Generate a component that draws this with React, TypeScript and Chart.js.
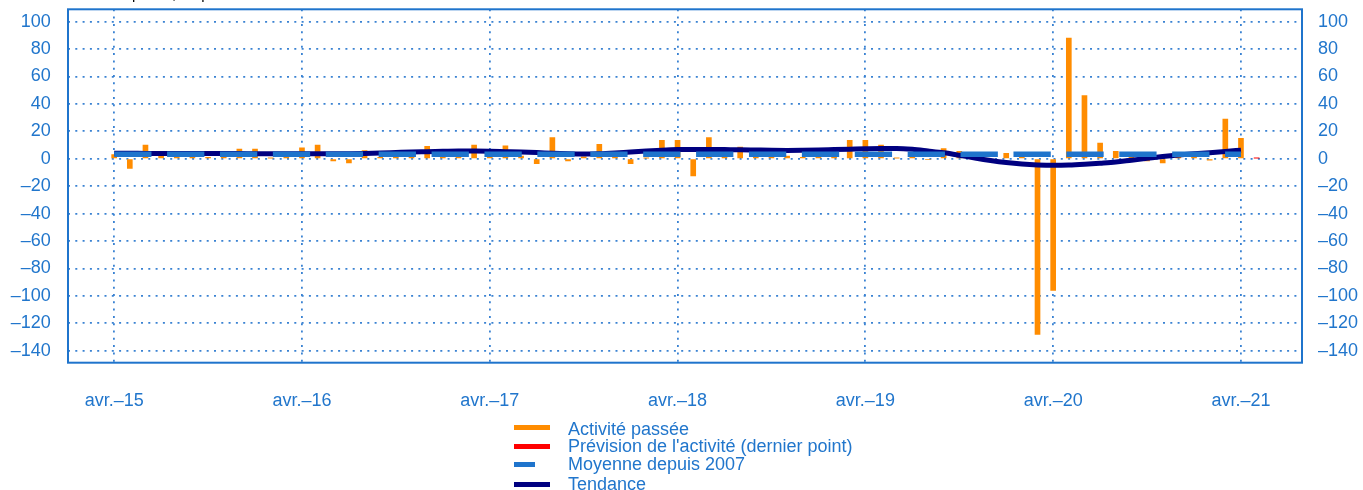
import React, { useEffect, useRef } from "react";
import { Chart, registerables } from "chart.js";

Chart.register(...registerables);

// Monthly index: 0 = avr. 2015 ... 72 = avr. 2021
const yearTickMonths = [0, 12, 24, 36, 48, 60, 72];
const yearLabels = ["avr.–15", "avr.–16", "avr.–17", "avr.–18", "avr.–19", "avr.–20", "avr.–21"];

// Activité passée (solde d'opinion), avr. 2015 -> avr. 2021
const activity = [
  3, -7, 10, 2, 1, 2, 1, 2, 7, 7, 0.5, 1,
  8, 10, -1.5, -3, 6, 1, 1.5, 1, 9, 1, 1, 10,
  2, 9.5, 2, -3.5, 15.5, -1.5, 1.5, 10.5, 1.5, -3.5, 0.5, 13.5,
  13.5, -12.5, 15.5, 1.5, 8.5, 1.5, 1, 2, 1, 1, 1.5, 13.5,
  13.5, 10, 0.5, 1.5, -0.5, 7.5, 5.5, 2, -2, 4, 4.5, -128,
  -96, 88, 46, 11.5, 5.5, 2, -1.5, -3, 1.5, 1.5, -1, 29,
  15,
];

// Prévision de l'activité (dernier point) : mai 2021
const forecastMonth = [73];
const forecast = [0.5];

// Moyenne depuis 2007
const meanMonths = [0, 72];
const meanSince2007 = 3.3;

// Tendance
const trend = [
  4.0, 4.0, 3.9, 3.9, 3.9, 3.9, 3.9, 3.8, 3.8, 3.7, 3.7, 3.6,
  3.6, 3.6, 3.6, 3.7, 3.9, 4.2, 4.6, 5.0, 5.2, 5.4, 5.6, 5.6,
  5.5, 5.2, 4.9, 4.5, 4.0, 3.6, 3.4, 3.6, 4.2, 5.0, 5.7, 6.3,
  6.7, 6.8, 6.8, 6.7, 6.6, 6.4, 6.2, 6.1, 6.2, 6.4, 6.7, 7.0,
  7.3, 7.5, 7.5, 6.9, 5.7, 4.4, 2.6, 0.6, -1.2, -2.7, -3.8, -4.5,
  -4.8, -4.6, -4.0, -3.2, -2.3, -1.0, 0.3, 1.6, 2.7, 3.6, 4.4, 5.3,
  6.3,
];

const legendItems = [
  { label: "Activité passée", color: "#ff8c00", width: 36 },
  { label: "Prévision de l'activité (dernier point)", color: "#ff0000", width: 36 },
  { label: "Moyenne depuis 2007", color: "#1f74cc", width: 21 },
  { label: "Tendance", color: "#000080", width: 36 },
];

const BLUE_TEXT = "#2176cc";
const GRID_BLUE = "#3a82d2";
const FONT = "'Liberation Sans', Arial, Helvetica, sans-serif";

const fmt = (v: number) => (v < 0 ? "–" + Math.abs(v) : String(v));

const framePlugin = {
  id: "frame",
  afterDraw(chart: any) {
    const { ctx, chartArea } = chart;
    ctx.save();
    ctx.strokeStyle = "#1f74cc";
    ctx.lineWidth = 2;
    ctx.strokeRect(chartArea.left, chartArea.top, chartArea.right - chartArea.left, chartArea.bottom - chartArea.top);
    ctx.restore();
  },
};

const noPad = (s: any) => {
  s.paddingTop = 0;
  s.paddingBottom = 0;
  s.paddingLeft = 0;
  s.paddingRight = 0;
};

export default function App() {
  const ref = useRef<HTMLCanvasElement>(null);

  useEffect(() => {
    if (!ref.current) return;
    Chart.defaults.font.family = FONT;
    const chart = new Chart(ref.current, {
      type: "bar",
      data: {
        datasets: [
          {
            type: "line",
            label: "Moyenne depuis 2007",
            data: meanMonths.map((m) => ({ x: m, y: meanSince2007 })),
            borderColor: "#1f74cc",
            borderWidth: 5.5,
            borderDash: [37.3, 15.6],
            borderCapStyle: "butt",
            pointRadius: 0,
            order: 1,
          },
          {
            type: "line",
            label: "Tendance",
            data: trend.map((v, i) => ({ x: i, y: v })),
            borderColor: "#000080",
            borderWidth: 5,
            cubicInterpolationMode: "monotone",
            pointRadius: 0,
            order: 2,
          },
          {
            type: "bar",
            label: "Prévision de l'activité (dernier point)",
            data: forecast.map((v, i) => ({ x: forecastMonth[i], y: v })),
            backgroundColor: "#ff0000",
            barThickness: 5,
            grouped: false,
            order: 3,
          },
          {
            type: "bar",
            label: "Activité passée",
            data: activity.map((v, i) => ({ x: i, y: v })),
            backgroundColor: "#ff8c00",
            barThickness: 5,
            grouped: false,
            order: 4,
          },
        ],
      } as any,
      options: {
        responsive: false,
        animation: false,
        devicePixelRatio: 1,
        layout: { padding: { top: 9.3, left: 0, right: 0, bottom: 0 } },
        plugins: { legend: { display: false }, tooltip: { enabled: false }, title: { display: false } },
        scales: {
          x: {
            type: "linear",
            min: -2.95,
            max: 75.9,
            offset: false,
            z: 1,
            grid: { offset: false, drawTicks: false, color: GRID_BLUE, lineWidth: 1.8 },
            border: { display: false, dash: [2, 5.3] },
            afterBuildTicks: (s: any) => {
              s.ticks = yearTickMonths.map((v) => ({ value: v }));
            },
            afterFit: (s: any) => {
              s.height = 127.3;
              noPad(s);
            },
            ticks: {
              autoSkip: false,
              maxRotation: 0,
              padding: 28,
              color: BLUE_TEXT,
              font: { size: 18, family: FONT },
              callback: (_v: any, i: number) => yearLabels[i],
            },
          },
          y: {
            type: "linear",
            position: "left",
            min: -148.7,
            max: 109,
            z: 1,
            grid: { drawTicks: false, color: GRID_BLUE, lineWidth: 1.8 },
            border: { display: false, dash: [2, 5.3] },
            afterFit: (s: any) => {
              s.width = 68;
              noPad(s);
            },
            ticks: {
              stepSize: 20,
              includeBounds: false,
              padding: 17.3,
              color: BLUE_TEXT,
              font: { size: 18, family: FONT },
              callback: (v: any) => fmt(Number(v)),
            },
          },
          y2: {
            type: "linear",
            position: "right",
            min: -148.7,
            max: 109,
            grid: { display: false, drawTicks: false },
            border: { display: false },
            afterFit: (s: any) => {
              s.width = 61;
              noPad(s);
            },
            ticks: {
              stepSize: 20,
              includeBounds: false,
              padding: 16,
              color: BLUE_TEXT,
              font: { size: 18, family: FONT },
              callback: (v: any) => fmt(Number(v)),
            },
          },
        },
      } as any,
      plugins: [framePlugin],
    });
    return () => chart.destroy();
  }, []);

  const rowTops = [420, 437, 455, 474.7];
  const symCenters = [427, 446.5, 464.5, 484];

  return (
    <div
      style={{
        position: "absolute",
        left: 0,
        top: 0,
        width: 1363,
        height: 490,
        overflow: "hidden",
        background: "#ffffff",
        fontFamily: FONT,
      }}
    >
      <canvas ref={ref} width={1363} height={490} style={{ position: "absolute", left: 0, top: 0 }} />
      <div
        style={{
          position: "absolute",
          left: 70,
          top: -14,
          fontSize: 15,
          lineHeight: "16px",
          color: "#000000",
          whiteSpace: "nowrap",
        }}
      >
        Solde d'opinion, en points de %
      </div>
      {legendItems.map((it, i) => (
        <React.Fragment key={it.label}>
          <div
            style={{
              position: "absolute",
              left: 514,
              top: symCenters[i] - 2.5,
              width: it.width,
              height: 5,
              background: it.color,
            }}
          />
          <div
            style={{
              position: "absolute",
              left: 568,
              top: rowTops[i],
              fontSize: 18,
              lineHeight: "18px",
              color: BLUE_TEXT,
              whiteSpace: "nowrap",
            }}
          >
            {it.label}
          </div>
        </React.Fragment>
      ))}
    </div>
  );
}
